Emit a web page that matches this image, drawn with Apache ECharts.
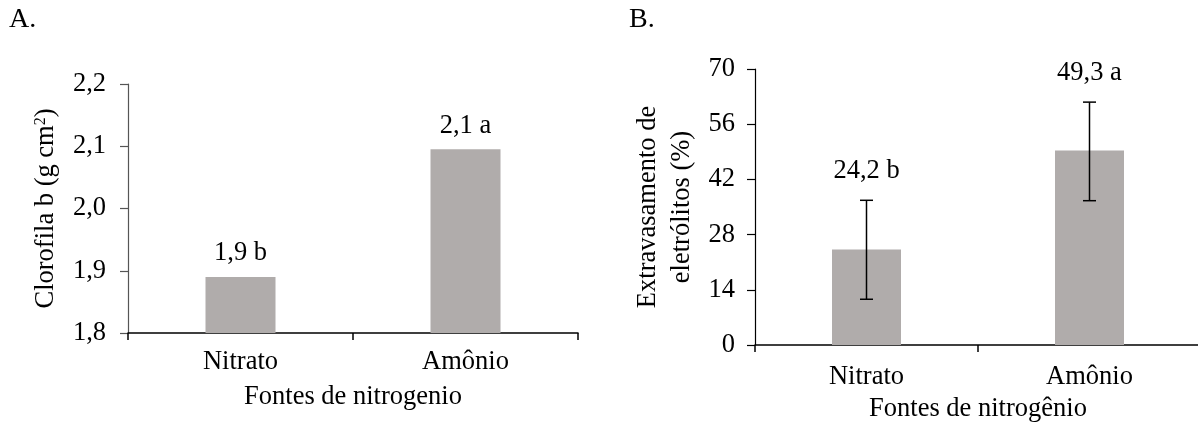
<!DOCTYPE html>
<html><head><meta charset="utf-8">
<style>html,body{margin:0;padding:0;background:#fff;font-family:"Liberation Serif",serif}#c{width:1198px;height:423px}</style>
<script src="https://cdn.jsdelivr.net/npm/echarts@6/dist/echarts.min.js"></script>
</head><body><div id="c"></div>
<script>
const categories = ['Nitrato', 'Amônio'];
const clorofilaValues = [1.89, 2.095];
const clorofilaLabels = ['1,9 b', '2,1 a'];
const extravValues = [24.2, 49.3];
const extravErrLow = [11.6, 36.6];
const extravErrHigh = [36.7, 61.6];
const extravLabels = ['24,2 b', '49,3 a'];
const clorofilaTicks = [1.8, 1.9, 2.0, 2.1, 2.2];
const extravTicks = [0, 14, 28, 42, 56, 70];

const FONT = 'Liberation Serif';
const FS = 26.5;
const BAR = '#b0acab';

function draw() {
const chart = echarts.init(document.getElementById('c'), null, {renderer: 'canvas'});
const txt = {fontFamily: FONT, fontSize: FS, color: '#000'};

chart.setOption({
  animation: false,
  backgroundColor: '#fff',
  textStyle: {fontFamily: FONT},
  graphic: [
    {type: 'text', left: 9, top: 6, style: {text: 'A.', fontFamily: FONT, fontSize: 28, fill: '#000'}},
    {type: 'text', left: 629, top: 6, style: {text: 'B.', fontFamily: FONT, fontSize: 28, fill: '#000'}}
  ],
  grid: [
    {left: 128, right: 620, top: 84, bottom: 90, containLabel: false, outerBoundsMode: 'none'},
    {left: 755, right: -3, top: 69, bottom: 78, containLabel: false, outerBoundsMode: 'none'}
  ],
  xAxis: [
    {type: 'category', gridIndex: 0, data: categories,
     axisLine: {lineStyle: {color: '#000', width: 1.5}},
     axisTick: {show: true, length: 7, lineStyle: {color: '#000', width: 1.5}},
     axisLabel: Object.assign({margin: 16}, txt),
     name: 'Fontes de nitrogenio', nameLocation: 'middle', nameGap: 51, nameTextStyle: txt},
    {type: 'category', gridIndex: 1, data: categories,
     axisLine: {lineStyle: {color: '#000', width: 1.5}},
     axisTick: {show: true, length: 7, lineStyle: {color: '#000', width: 1.5}},
     axisLabel: Object.assign({margin: 19}, txt),
     name: 'Fontes de nitrogênio', nameLocation: 'middle', nameGap: 48, nameTextStyle: txt}
  ],
  yAxis: [
    {type: 'value', gridIndex: 0, min: 1.8, max: 2.2, interval: 0.1,
     axisLine: {show: true, lineStyle: {color: '#555', width: 1.2}},
     axisTick: {show: true, length: 8, lineStyle: {color: '#555', width: 1.2}},
     splitLine: {show: false},
     axisLabel: Object.assign({margin: 22, formatter: v => {
       const t = clorofilaTicks.find(x => Math.abs(x - v) < 1e-6);
       return (t !== undefined ? t : v).toFixed(1).replace('.', ',');
     }}, txt),
     name: 'Clorofila b (g cm{sup|2})', nameLocation: 'middle', nameGap: 68,
     nameTextStyle: Object.assign({rich: {sup: {fontFamily: FONT, fontSize: 16, color: '#000', verticalAlign: 'top', padding: [0, 0, 11, 0]}}}, txt)},
    {type: 'value', gridIndex: 1, min: extravTicks[0], max: extravTicks[extravTicks.length - 1], interval: 14,
     axisLine: {show: true, lineStyle: {color: '#000', width: 1.2}},
     axisTick: {show: true, length: 8, lineStyle: {color: '#000', width: 1.2}},
     splitLine: {show: false},
     axisLabel: Object.assign({margin: 20}, txt),
     name: 'Extravasamento de\neletrólitos (%)', nameLocation: 'middle', nameGap: 56,
     nameTextStyle: Object.assign({lineHeight: 34}, txt)}
  ],
  series: [
    {type: 'bar', xAxisIndex: 0, yAxisIndex: 0, data: clorofilaValues, barWidth: 70,
     itemStyle: {color: BAR},
     label: {show: true, position: 'top', distance: 10, formatter: p => clorofilaLabels[p.dataIndex], fontFamily: FONT, fontSize: FS, color: '#000'}},
    {type: 'bar', xAxisIndex: 1, yAxisIndex: 1, data: extravValues, barWidth: 69,
     itemStyle: {color: BAR}, z: 2},
    {type: 'custom', xAxisIndex: 1, yAxisIndex: 1, z: 10,
     data: categories.map((c, i) => [i, extravErrLow[i], extravErrHigh[i]]),
     renderItem: function (params, api) {
       const lo = api.coord([api.value(0), api.value(1)]);
       const hi = api.coord([api.value(0), api.value(2)]);
       const x = lo[0], w = 6.5;
       const st = {stroke: '#000', lineWidth: 1.5};
       return {type: 'group', children: [
         {type: 'line', shape: {x1: x, y1: lo[1], x2: x, y2: hi[1]}, style: st},
         {type: 'line', shape: {x1: x - w, y1: lo[1], x2: x + w, y2: lo[1]}, style: st},
         {type: 'line', shape: {x1: x - w, y1: hi[1], x2: x + w, y2: hi[1]}, style: st},
         {type: 'text', x: x, y: hi[1] - 29, style: {text: extravLabels[params.dataIndex], fontFamily: FONT, fontSize: FS, fill: '#000', align: 'center', verticalAlign: 'middle'}}
       ]};
     }}
  ]
});
}
if (document.fonts && document.fonts.load) {
  Promise.race([document.fonts.load('24px "Liberation Serif"'), new Promise(r => setTimeout(r, 500))]).then(draw, draw);
} else draw();
</script></body></html>
